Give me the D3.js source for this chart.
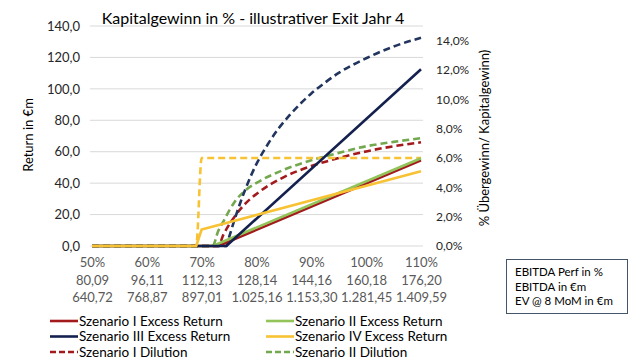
<!DOCTYPE html>
<html><head><meta charset="utf-8">
<script src="https://cdn.jsdelivr.net/npm/d3@7"></script>
<style>body{margin:0;background:#fff}svg{display:block}text{font-family:Lato,"Open Sans",sans-serif}</style>
</head><body>
<svg id="c" width="640" height="360"></svg>
<script>
// Category tick labels (3 rows)
const perfLabels = ["50%","60%","70%","80%","90%","100%","110%"];
const ebitdaLabels = ["80,09","96,11","112,13","128,14","144,16","160,18","176,20"];
const evLabels = ["640,72","768,87","897,01","1.025,16","1.153,30","1.281,45","1.409,59"];
const perfTicks = [50,60,70,80,90,100,110];
const leftTicks = [0,20,40,60,80,100,120,140];
const rightTicks = [0,2,4,6,8,10,12,14];

// Excess Return (left axis, €m): [EBITDA perf %, value]
const excessI   = [[50,0],[73,0],[110,54.5]];
const excessII  = [[50,0],[72,0],[110,55.8]];
const excessIII = [[50,0],[74.5,0],[110,112.5]];
const excessIV  = [[50,0],[69,0],[70,10.5],[110,47.6]];
// Dilution (right axis, %)
const dilI   = [[50,0],[73,0],[74,0.8],[75,1.45],[76,2.0],[78,2.9],[80,3.55],[85,4.7],[90,5.45],[95,6.0],[100,6.45],[105,6.8],[110,7.07]];
const dilII  = [[50,0],[72,0],[73,1.0],[74,1.7],[75,2.4],[76,3.0],[78,3.8],[80,4.3],[85,5.2],[90,5.85],[95,6.35],[100,6.8],[105,7.1],[110,7.35]];
const dilIII = [[50,0],[74.5,0],[75,0.6],[76,1.8],[77,2.9],[78,3.9],[80,5.6],[82,6.9],[84,8.0],[86,8.9],[88,9.7],[90,10.4],[92,11.0],[95,11.8],[100,12.8],[105,13.6],[110,14.2]];
const dilIV  = [[50,0],[69,0],[70,6.0],[110,6.0]];

const svg = d3.select("#c");
const x = d3.scaleLinear().domain([50,110]).range([92,421]);
const yL = d3.scaleLinear().domain([0,140]).range([246,26]);
const yR = d3.scaleLinear().domain([0,15]).range([246,26]);

// gridlines
svg.append("g").selectAll("line").data(leftTicks).join("line")
  .attr("x1",90).attr("x2",423).attr("y1",d=>yL(d)).attr("y2",d=>yL(d))
  .attr("stroke","#d9d9d9").attr("stroke-width",1);

// left axis
const axL = d3.axisLeft(yL).tickValues(leftTicks).tickSize(0).tickPadding(0)
  .tickFormat(d=>d3.format(".1f")(d).replace(".",","));
const gL = svg.append("g").attr("transform","translate(80,0)").call(axL);
gL.select(".domain").remove();
gL.selectAll("text").attr("font-size",13).attr("fill","#262626").attr("font-family","Lato,sans-serif");

// right axis
const axR = d3.axisRight(yR).tickValues(rightTicks).tickSize(0).tickPadding(0)
  .tickFormat(d=>d3.format(".1f")(d).replace(".",",")+"%");
const gR = svg.append("g").attr("transform","translate(436,0)").call(axR);
gR.select(".domain").remove();
gR.selectAll("text").attr("font-size",12).attr("fill","#262626").attr("font-family","Lato,sans-serif");

// bottom axis: three rows of labels
const rows = [perfLabels, ebitdaLabels, evLabels];
rows.forEach((labs,r)=>{
  const ax = d3.axisBottom(x).tickValues(perfTicks).tickSize(0).tickPadding(0)
    .tickFormat((d,i)=>labs[i]);
  const g = svg.append("g").attr("transform",`translate(0,${258+r*17.5})`).call(ax);
  g.select(".domain").remove();
  g.selectAll("text").attr("font-size",13).attr("fill","#595959").attr("font-family","Lato,sans-serif");
});

// series
const series = [
  {name:"Szenario I Excess Return", data:excessI, y:yL, color:"#A31A1D", dash:null},
  {name:"Szenario II Excess Return", data:excessII, y:yL, color:"#92C45A", dash:null},
  {name:"Szenario III Excess Return", data:excessIII, y:yL, color:"#14214F", dash:null},
  {name:"Szenario IV Excess Return", data:excessIV, y:yL, color:"#F7C233", dash:null},
  {name:"Szenario I Dilution", data:dilI, y:yR, color:"#A31A1D", dash:"7,4"},
  {name:"Szenario II Dilution", data:dilII, y:yR, color:"#74A84F", dash:"7,4"},
  {name:"Szenario III Dilution", data:dilIII, y:yR, color:"#22355F", dash:"7,4"},
  {name:"Szenario IV Dilution", data:dilIV, y:yR, color:"#F7C233", dash:"7,4"}
];
const drawOrder = [4,5,6,7,0,1,2,3];
drawOrder.forEach(i=>{
  const s = series[i];
  const line = d3.line().x(d=>x(d[0])).y(d=>s.y(d[1])).curve(s.dash? d3.curveMonotoneX : d3.curveLinear);
  svg.append("path").datum(s.data).attr("d",line).attr("fill","none")
    .attr("stroke",s.color).attr("stroke-width",2.6)
    .attr("stroke-dasharray",s.dash).attr("stroke-linejoin","round");
});

// title
svg.append("text").attr("x",253).attr("y",24).attr("text-anchor","middle")
  .attr("font-size",16).attr("fill","#000").text("Kapitalgewinn in % - illustrativer Exit Jahr 4");
// axis titles
svg.append("text").attr("transform","translate(33,135) rotate(-90)").attr("text-anchor","middle")
  .attr("font-size",13).attr("fill","#000").text("Return in €m");
svg.append("text").attr("transform","translate(489,138) rotate(-90)").attr("text-anchor","middle")
  .attr("font-size",13).attr("fill","#000").text("% Übergewinn/ Kapitalgewinn)");

// legend (6 visible entries)
const legendIdx = [0,1,2,3,4,5];
const lg = svg.append("g");
legendIdx.forEach((si,k)=>{
  const s = series[si];
  const col = k%2, row = Math.floor(k/2);
  const lx = col===0 ? 50 : 266, ly = 321 + row*15.5;
  lg.append("line").attr("x1",lx).attr("x2",lx+28).attr("y1",ly).attr("y2",ly)
    .attr("stroke",s.color).attr("stroke-width",2.6).attr("stroke-dasharray",s.dash?"6,3":null);
  lg.append("text").attr("x",lx+29).attr("y",ly+4.5).attr("font-size",13.5).attr("fill","#000").text(s.name);
});

// info box
const box = svg.append("g");
box.append("rect").attr("x",506.5).attr("y",259.5).attr("width",121).attr("height",54)
  .attr("fill","#fff").attr("stroke","#44546A").attr("stroke-width",1);
["EBITDA Perf in %","EBITDA in €m","EV @ 8 MoM in €m"].forEach((t,i)=>{
  box.append("text").attr("x",515).attr("y",276+i*14.5).attr("font-size",11.5).attr("fill","#000").text(t);
});
</script>
</body></html>
